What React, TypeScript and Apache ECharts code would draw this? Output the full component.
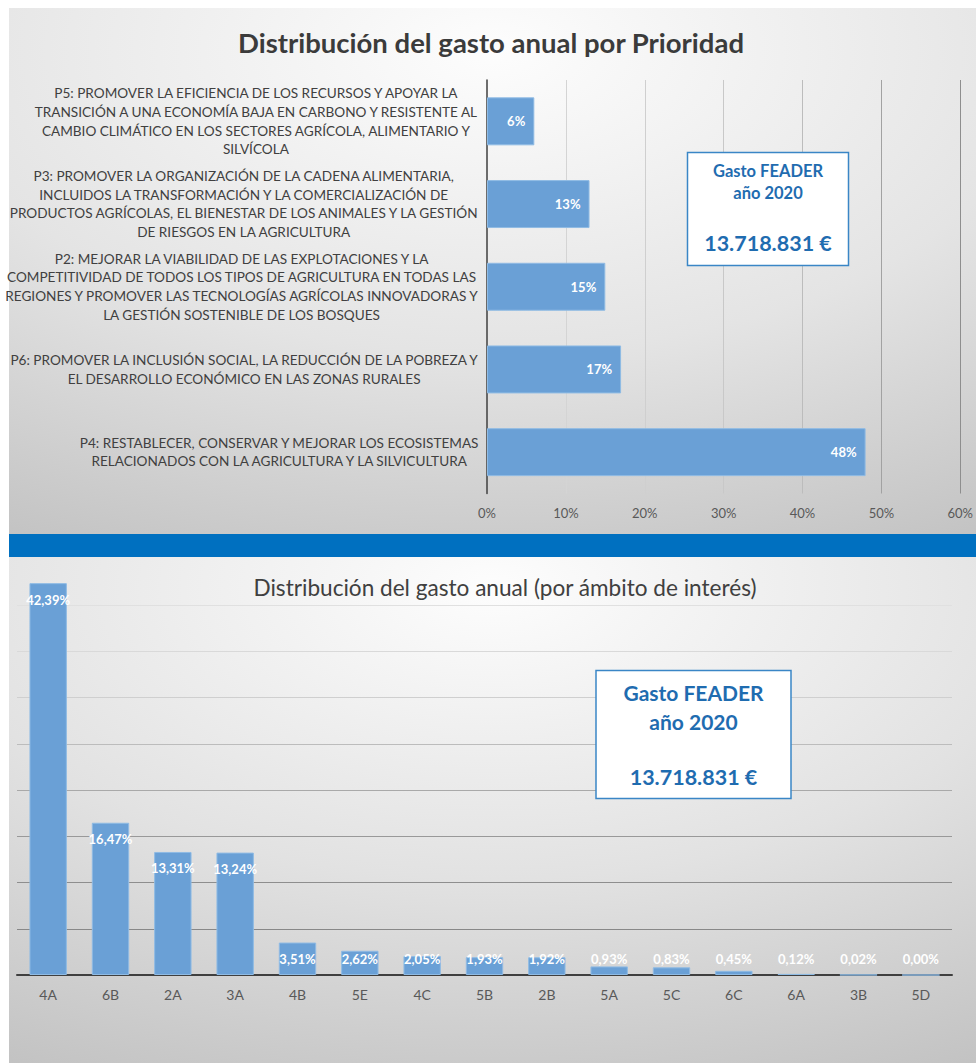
import React, { useEffect, useRef } from 'react';
import * as echarts from 'echarts';

const FONT = 'Lato, "Open Sans", sans-serif';

// Top chart: distribution by priority (top to bottom)
const prioridadLabels = [
  'P5: PROMOVER LA EFICIENCIA DE LOS RECURSOS Y APOYAR LA\nTRANSICIÓN A UNA ECONOMÍA BAJA EN CARBONO Y RESISTENTE AL\nCAMBIO CLIMÁTICO EN LOS SECTORES AGRÍCOLA, ALIMENTARIO Y\nSILVÍCOLA',
  'P3: PROMOVER LA ORGANIZACIÓN DE LA CADENA ALIMENTARIA,\nINCLUIDOS LA TRANSFORMACIÓN Y LA COMERCIALIZACIÓN DE\nPRODUCTOS AGRÍCOLAS, EL BIENESTAR DE LOS ANIMALES Y LA GESTIÓN\nDE RIESGOS EN LA AGRICULTURA',
  'P2: MEJORAR LA VIABILIDAD DE LAS EXPLOTACIONES Y LA\nCOMPETITIVIDAD DE TODOS LOS TIPOS DE AGRICULTURA EN TODAS LAS\nREGIONES Y PROMOVER LAS TECNOLOGÍAS AGRÍCOLAS INNOVADORAS Y\nLA GESTIÓN SOSTENIBLE DE LOS BOSQUES',
  'P6: PROMOVER LA INCLUSIÓN SOCIAL, LA REDUCCIÓN DE LA POBREZA Y\nEL DESARROLLO ECONÓMICO EN LAS ZONAS RURALES',
  'P4: RESTABLECER, CONSERVAR Y MEJORAR LOS ECOSISTEMAS\nRELACIONADOS CON LA AGRICULTURA Y LA SILVICULTURA',
];
const prioridadValues = [6, 13, 15, 17, 48];

// Bottom chart: distribution by focus area
const ambitoCategories = ['4A', '6B', '2A', '3A', '4B', '5E', '4C', '5B', '2B', '5A', '5C', '6C', '6A', '3B', '5D'];
const ambitoValues = [42.39, 16.47, 13.31, 13.24, 3.51, 2.62, 2.05, 1.93, 1.92, 0.93, 0.83, 0.45, 0.12, 0.02, 0.0];

const titleTop = 'Distribución del gasto anual por Prioridad';
const titleBottom = 'Distribución del gasto anual (por ámbito de interés)';
const boxLine1 = 'Gasto FEADER';
const boxLine2 = 'año 2020';
const boxAmount = '13.718.831 €';

const BAR = '#6aa0d6';
const BOXBLUE = '#1f6cb0';

export default function App() {
  const ref = useRef<HTMLDivElement>(null);

  useEffect(() => {
    if (!ref.current) return;
    const chart = echarts.init(ref.current, undefined, { renderer: 'svg' });

    const option: any = {
      animation: false,
      textStyle: { fontFamily: FONT },
      title: [
        {
          text: titleTop,
          left: 486,
          textAlign: 'center',
          top: 23,
          textStyle: { fontSize: 27.5, fontWeight: 'bold', color: '#3b3b3b', fontFamily: FONT },
        },
        {
          text: titleBottom,
          left: 500,
          textAlign: 'center',
          top: 571,
          textStyle: { fontSize: 22.6, fontWeight: 'normal', color: '#404040', fontFamily: FONT },
        },
      ],
      graphic: [
        {
          type: 'rect',
          z: -10,
          silent: true,
          shape: { x: 9, y: 8, width: 967, height: 526 },
          style: {
            fill: new echarts.graphic.RadialGradient(0.5, 0.08, 1.15, [
              { offset: 0, color: '#fdfdfd' },
              { offset: 0.5, color: '#e4e4e4' },
              { offset: 1, color: '#bcbcbc' },
            ]),
          },
        },
        {
          type: 'rect',
          z: -10,
          silent: true,
          shape: { x: 9, y: 557, width: 967, height: 506 },
          style: {
            fill: new echarts.graphic.RadialGradient(0.5, 0.06, 1.15, [
              { offset: 0, color: '#fdfdfd' },
              { offset: 0.5, color: '#e2e2e2' },
              { offset: 1, color: '#bdbdbd' },
            ]),
          },
        },
        {
          type: 'rect',
          z: 20,
          silent: true,
          shape: { x: 9, y: 534, width: 967, height: 23 },
          style: { fill: '#0070c0' },
        },
        {
          type: 'group',
          z: 20,
          children: [
            {
              type: 'rect',
              z: 20,
              shape: { x: 687.5, y: 152.5, width: 161, height: 113 },
              style: { fill: '#ffffff', stroke: '#3a86c6', lineWidth: 1.5 },
            },
            {
              type: 'text',
              z: 21,
              style: { text: boxLine1, x: 768, y: 171, align: 'center', verticalAlign: 'middle', fill: BOXBLUE, fontSize: 16.5, fontWeight: 'bold', fontFamily: FONT },
            },
            {
              type: 'text',
              z: 21,
              style: { text: boxLine2, x: 768, y: 193, align: 'center', verticalAlign: 'middle', fill: BOXBLUE, fontSize: 16.5, fontWeight: 'bold', fontFamily: FONT },
            },
            {
              type: 'text',
              z: 21,
              style: { text: boxAmount, x: 768, y: 243, align: 'center', verticalAlign: 'middle', fill: BOXBLUE, fontSize: 21.5, fontWeight: 'bold', fontFamily: FONT },
            },
          ],
        },
        {
          type: 'group',
          z: 20,
          children: [
            {
              type: 'rect',
              z: 20,
              shape: { x: 596, y: 670.5, width: 195, height: 128 },
              style: { fill: '#ffffff', stroke: '#3a86c6', lineWidth: 1.5 },
            },
            {
              type: 'text',
              z: 21,
              style: { text: boxLine1, x: 693.5, y: 692, align: 'center', verticalAlign: 'middle', fill: BOXBLUE, fontSize: 21, fontWeight: 'bold', fontFamily: FONT },
            },
            {
              type: 'text',
              z: 21,
              style: { text: boxLine2, x: 693.5, y: 721, align: 'center', verticalAlign: 'middle', fill: BOXBLUE, fontSize: 21, fontWeight: 'bold', fontFamily: FONT },
            },
            {
              type: 'text',
              z: 21,
              style: { text: boxAmount, x: 693.5, y: 777, align: 'center', verticalAlign: 'middle', fill: BOXBLUE, fontSize: 21.5, fontWeight: 'bold', fontFamily: FONT },
            },
          ],
        },
      ],
      grid: [
        { left: 487, top: 80, width: 480, height: 413.5, containLabel: false },
        { left: 17, top: 559, width: 935, height: 416, containLabel: false },
      ],
      xAxis: [
        {
          gridIndex: 0,
          type: 'value',
          min: 0,
          max: 60,
          interval: 10,
          axisLine: { show: false },
          axisTick: { show: false },
          axisLabel: { formatter: '{value}%', fontSize: 13, color: '#595959', margin: 13, fontFamily: FONT },
          splitLine: {
            show: true,
            lineStyle: {
              width: 1,
              color: ['transparent', '#d4d4d4', '#cfcfcf', '#c8c8c8', '#bcbcbc', '#a2a2a2', '#8e8e8e'],
            },
          },
        },
        {
          gridIndex: 1,
          type: 'category',
          data: ambitoCategories,
          axisLine: { show: true, lineStyle: { color: '#3f3f3f', width: 2 } },
          axisTick: { show: false },
          axisLabel: { fontSize: 14, color: '#595959', margin: 12, fontFamily: FONT },
          splitLine: { show: false },
        },
      ],
      yAxis: [
        {
          gridIndex: 0,
          type: 'category',
          inverse: true,
          data: prioridadLabels,
          axisLine: { show: true, lineStyle: { color: '#3f3f3f', width: 1.5 } },
          axisTick: { show: false },
          axisLabel: {
            margin: 8,
            formatter: (v: string) =>
              v
                .split('\n')
                .map((l) => '{c|' + l + '}')
                .join('\n'),
            rich: {
              c: { align: 'center', fontSize: 13.6, lineHeight: 18.6, color: '#404040', fontFamily: FONT },
            },
          },
        },
        {
          gridIndex: 1,
          type: 'value',
          min: 0,
          max: 45,
          interval: 5,
          axisLine: { show: false },
          axisTick: { show: false },
          axisLabel: { show: false },
          splitLine: {
            show: true,
            lineStyle: {
              width: 1,
              color: ['transparent', '#888888', '#8e8e8e', '#999999', '#a9a9a9', '#bcbcbc', '#cfcfcf', '#d9d9d9', '#e0e0e0', 'transparent'],
            },
          },
        },
      ],
      series: [
        {
          type: 'bar',
          xAxisIndex: 0,
          yAxisIndex: 0,
          data: prioridadValues,
          barWidth: '58%',
          itemStyle: { color: BAR, borderColor: '#8fbbe4', borderWidth: 1 },
          label: {
            show: true,
            position: 'insideRight',
            distance: 9,
            color: '#ffffff',
            fontWeight: 'bold',
            fontSize: 13,
            fontFamily: FONT,
            formatter: (p: any) => p.value + '%',
          },
        },
        {
          type: 'bar',
          xAxisIndex: 1,
          yAxisIndex: 1,
          data: ambitoValues,
          barWidth: '60%',
          itemStyle: { color: BAR, borderColor: '#8fbbe4', borderWidth: 1 },
          label: {
            show: true,
            position: 'insideTop',
            distance: 10,
            color: '#ffffff',
            fontWeight: 'bold',
            fontSize: 13,
            fontFamily: FONT,
            formatter: (p: any) => Number(p.value).toFixed(2).replace('.', ',') + '%',
          },
          labelLayout: (p: any) => {
            const r = p.rect;
            return {
              x: r.x + r.width / 2,
              y: Math.min(r.y + 10, r.y + r.height - 23),
              align: 'center',
              verticalAlign: 'top',
            };
          },
        },
      ],
    };

    chart.setOption(option);
    return () => chart.dispose();
  }, []);

  return (
    <div
      ref={ref}
      style={{ position: 'absolute', left: 0, top: 0, width: 976, height: 1063, background: '#ffffff' }}
    />
  );
}
